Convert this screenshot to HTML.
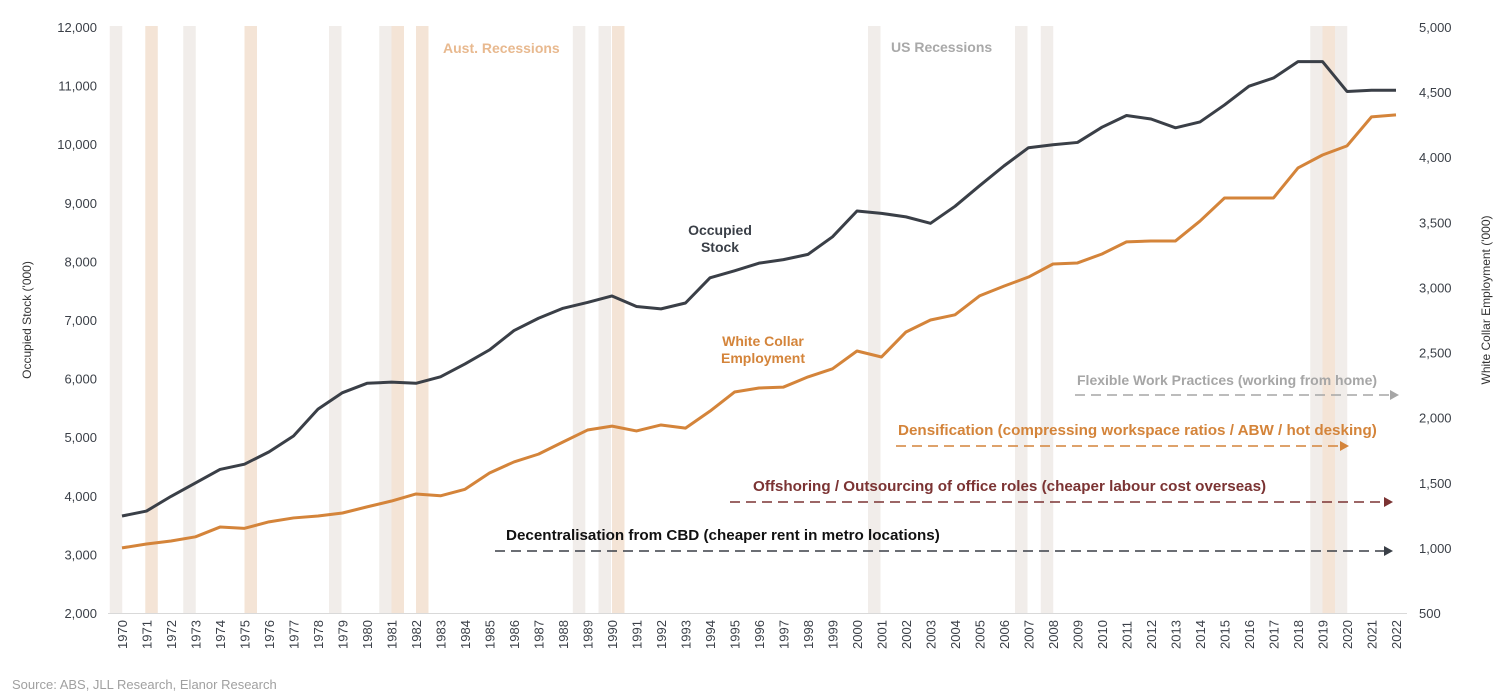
<!DOCTYPE html>
<html><head><meta charset="utf-8"><style>
html,body{margin:0;padding:0;background:#fff;}
svg{display:block;font-family:"Liberation Sans",Arial,sans-serif;}
</style></head><body>
<svg id="chart" width="1508" height="697">
<g id="bars"></g>
<g id="axes"></g>
<g id="lines"></g>
<g id="notes">
<text x="443" y="53" font-size="14" font-weight="bold" fill="#e8b98f">Aust. Recessions</text>
<text x="891" y="52" font-size="14" font-weight="bold" fill="#a9a9a9">US Recessions</text>
<text x="720" y="235" font-size="14" font-weight="bold" fill="#3a3f47" text-anchor="middle"><tspan x="720">Occupied</tspan><tspan x="720" dy="17">Stock</tspan></text>
<text x="763" y="346" font-size="14" font-weight="bold" fill="#d4843a" text-anchor="middle"><tspan x="763">White Collar</tspan><tspan x="763" dy="17">Employment</tspan></text>
<text x="1077" y="385" font-size="14" font-weight="bold" fill="#a6a6a6">Flexible Work Practices (working from home)</text>
<line x1="1075" y1="395" x2="1390" y2="395" stroke="#a6a6a6" stroke-width="1.6" stroke-dasharray="10,6"/><path d="M1390,390 L1399,395 L1390,400Z" fill="#a6a6a6"/>
<text x="898" y="435" font-size="15.2" font-weight="bold" fill="#d4843a">Densification (compressing workspace ratios / ABW / hot desking)</text>
<line x1="896" y1="446" x2="1340" y2="446" stroke="#d4843a" stroke-width="1.6" stroke-dasharray="10,6"/><path d="M1340,441 L1349,446 L1340,451Z" fill="#d4843a"/>
<text x="753" y="491" font-size="15.2" font-weight="bold" fill="#7b3333">Offshoring / Outsourcing of office roles (cheaper labour cost overseas)</text>
<line x1="730" y1="502" x2="1384" y2="502" stroke="#7b3333" stroke-width="1.6" stroke-dasharray="10,6"/><path d="M1384,497 L1393,502 L1384,507Z" fill="#7b3333"/>
<text x="506" y="540" font-size="15.2" font-weight="bold" fill="#111">Decentralisation from CBD (cheaper rent in metro locations)</text>
<line x1="495" y1="551" x2="1384" y2="551" stroke="#3a3f47" stroke-width="1.6" stroke-dasharray="10,6"/><path d="M1384,546 L1393,551 L1384,556Z" fill="#3a3f47"/>
<text x="12" y="689" font-size="13" fill="#a0a0a0">Source: ABS, JLL Research, Elanor Research</text>
<text transform="translate(31,320) rotate(-90)" font-size="12" fill="#333" text-anchor="middle">Occupied Stock ('000)</text>
<text transform="translate(1490,300) rotate(-90)" font-size="12" fill="#333" text-anchor="middle">White Collar Employment  ('000)</text>
</g>
</svg>
<script>
const years=[];for(let y=1970;y<=2022;y++)years.push(y);
const occupied=[3655,3740,3990,4220,4450,4540,4750,5020,5480,5760,5920,5940,5920,6030,6250,6490,6820,7030,7200,7300,7410,7230,7190,7290,7720,7840,7970,8030,8120,8420,8860,8820,8760,8650,8940,9290,9630,9940,9990,10030,10290,10490,10430,10280,10380,10670,10990,11130,11410,11410,10900,10920,10920];
const whiteCollar=[1000,1030,1053,1085,1160,1150,1200,1230,1245,1268,1315,1360,1414,1400,1450,1575,1660,1720,1813,1905,1935,1898,1944,1920,2050,2197,2228,2235,2313,2375,2512,2466,2658,2750,2790,2935,3010,3080,3180,3188,3257,3350,3357,3357,3510,3687,3687,3687,3918,4017,4087,4310,4325];
const usRecessions=[1969.5,1972.5,1978.45,1980.5,1988.4,1989.45,2000.45,2006.45,2007.5,2018.5,2019.5];
const ausRecessions=[1970.95,1975.0,1981.0,1982.0,1990.0,2019.0];
const leftTicks=[2000,3000,4000,5000,6000,7000,8000,9000,10000,11000,12000];
const rightTicks=[500,1000,1500,2000,2500,3000,3500,4000,4500,5000];
const NS='http://www.w3.org/2000/svg';
const X=y=>122+24.5*(y-1970);
const YL=v=>613-(v-2000)*586/10000;
const YR=v=>613-(v-500)*586/4500;
function mk(tag,attrs,parent){const e=document.createElementNS(NS,tag);for(const k in attrs)e.setAttribute(k,attrs[k]);parent.appendChild(e);return e;}
const bars=document.getElementById('bars'),axes=document.getElementById('axes'),lines=document.getElementById('lines');
usRecessions.forEach(y=>{const r=mk('rect',{x:X(y),y:26,width:12.5,height:587,fill:'#f1edea'},bars);

});
ausRecessions.forEach(y=>{const r=mk('rect',{x:X(y),y:26,width:12.5,height:587,fill:'#f4e4d6'},bars);

});
mk('line',{x1:108,y1:613.5,x2:1407,y2:613.5,stroke:'#d9d9d9','stroke-width':1},axes);
const fmt=v=>v.toLocaleString('en-US');
leftTicks.forEach(v=>{const t=mk('text',{x:97,y:YL(v)+5,'font-size':13,fill:'#3a3f47','text-anchor':'end'},axes);t.textContent=fmt(v);

});
rightTicks.forEach(v=>{const t=mk('text',{x:1419,y:YR(v)+5,'font-size':13,fill:'#3a3f47'},axes);t.textContent=fmt(v);

});
years.forEach(y=>{const t=mk('text',{transform:`translate(${X(y)+5},649) rotate(-90)`,'font-size':13,fill:'#3a3f47'},axes);t.textContent=y;

});
const p1=mk('polyline',{points:years.map((y,i)=>X(y)+','+YL(occupied[i])).join(' '),fill:'none',stroke:'#3a3f47','stroke-width':3,'stroke-linejoin':'round'},lines);


const p2=mk('polyline',{points:years.map((y,i)=>X(y)+','+YR(whiteCollar[i])).join(' '),fill:'none',stroke:'#d4843a','stroke-width':3,'stroke-linejoin':'round'},lines);


</script>
</body></html>
